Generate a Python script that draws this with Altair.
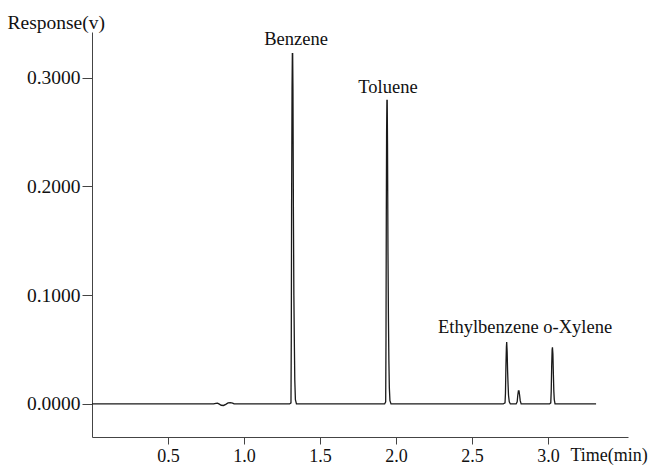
import altair as alt
import pandas as pd

# chromatogram trace (time in min, response in V)
times = [0.000, 0.800, 0.815, 0.825, 0.835, 0.850, 0.865, 0.880, 0.895, 0.910, 0.925, 0.935,
         1.300, 1.309, 1.311, 1.313, 1.316, 1.318, 1.320, 1.322, 1.325, 1.328, 1.331, 1.334, 1.338, 1.345,
         1.925, 1.932, 1.934, 1.936, 1.938, 1.940, 1.942, 1.944, 1.947, 1.950, 1.953, 1.956, 1.960, 1.967,
         2.705, 2.717, 2.720, 2.723, 2.726, 2.728, 2.731, 2.734, 2.737, 2.740, 2.745, 2.752,
         2.790, 2.797, 2.801, 2.805, 2.809, 2.813, 2.817, 2.823,
         3.010, 3.018, 3.021, 3.024, 3.027, 3.029, 3.032, 3.035, 3.038, 3.041, 3.046, 3.316]
responses = [0.0, 0.0, 0.0006, 0.0008, 0.0, -0.0012, -0.0014, -0.0004, 0.0010, 0.0012, 0.0008, 0.0,
             0.000, 0.001, 0.060, 0.180, 0.290, 0.322, 0.322, 0.289, 0.175, 0.100, 0.058, 0.022, 0.004, 0.000,
             0.000, 0.002, 0.060, 0.170, 0.250, 0.279, 0.279, 0.240, 0.140, 0.080, 0.040, 0.015, 0.003, 0.000,
             0.000, 0.001, 0.010, 0.035, 0.052, 0.057, 0.048, 0.030, 0.018, 0.008, 0.002, 0.000,
             0.000, 0.002, 0.008, 0.012, 0.012, 0.008, 0.003, 0.000,
             0.000, 0.001, 0.012, 0.035, 0.050, 0.052, 0.046, 0.028, 0.012, 0.004, 0.000, 0.000]

# peak labels
label_text = ["Benzene", "Toluene", "Ethylbenzene o-Xylene"]
label_time = [1.342, 1.947, 2.849]
label_resp = [0.330, 0.286, 0.0653]

x_ticks = [0.5, 1.0, 1.5, 2.0, 2.5, 3.0]
y_ticks = [0.0, 0.1, 0.2, 0.3]

trace = pd.DataFrame({"t": times, "r": responses})
labels = pd.DataFrame({"label": label_text, "t": label_time, "r": label_resp})

FONT = "Liberation Serif"

xscale = alt.Scale(domain=[0, 3.526], nice=False, zero=False)
yscale = alt.Scale(domain=[-0.0304, 0.342], nice=False, zero=False)

line = alt.Chart(trace).mark_line(color="#1a1a1a", strokeWidth=1.3, interpolate="linear").encode(
    x=alt.X("t:Q", scale=xscale,
            axis=alt.Axis(values=x_ticks, format=".1f", title="Time(min)", grid=False,
                          tickSize=7, labelPadding=3, labelFontSize=18,
                          titleAnchor="start", titleAlign="left", titleX=478, titleY=23,
                          titleBaseline="alphabetic", titleFontWeight="normal", titleFontSize=18)),
    y=alt.Y("r:Q", scale=yscale,
            axis=alt.Axis(values=y_ticks, format=".4f", title="Response(v)", grid=False,
                          tickSize=10, labelPadding=2, labelFontSize=19.5,
                          titleAngle=0, titleAlign="left", titleX=-85, titleY=-4,
                          titleBaseline="alphabetic", titleFontWeight="normal", titleFontSize=19.5)),
)

text = alt.Chart(labels).mark_text(font=FONT, fontSize=18.5, color="#111", align="center",
                                   baseline="alphabetic").encode(
    x=alt.X("t:Q", scale=xscale),
    y=alt.Y("r:Q", scale=yscale),
    text="label:N",
)

chart = (line + text).properties(
    width=536, height=405,
    autosize=alt.AutoSizeParams(type="none"),
    padding={"left": 92, "top": 32, "right": 25, "bottom": 28},
    background="white",
).configure_view(stroke=None).configure_axis(
    labelFont=FONT, titleFont=FONT, labelColor="#111", titleColor="#111",
    domainColor="#444", tickColor="#444", domainWidth=1, tickWidth=1,
)

chart.save("out.html", embed_options={"renderer": "svg", "actions": False})
